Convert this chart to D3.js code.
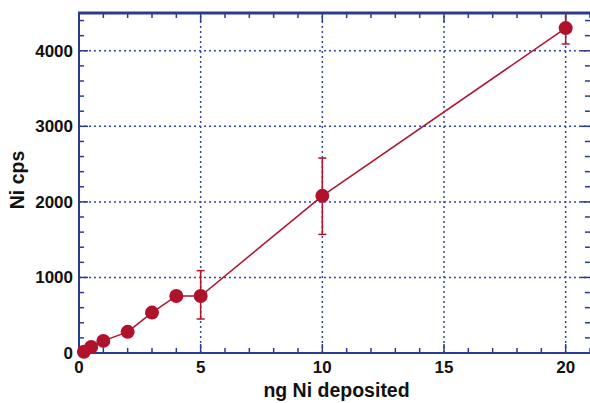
<!DOCTYPE html>
<html>
<head>
<meta charset="utf-8">
<script src="https://cdn.jsdelivr.net/npm/d3@7"></script>
<style>
  body { margin: 0; background: #fff; }
  svg text { font-family: "Liberation Sans", Arial, Helvetica, sans-serif; font-weight: bold; fill: #111; }
</style>
</head>
<body>
<div id="chart"></div>
<script>
// ng Ni deposited vs. measured Ni counts per second
const mass = [0.2, 0.5, 1, 2, 3, 4, 5, 10, 20];
const cps = [15, 80, 160, 280, 535, 755, 755, 2080, 4300];
// error bars (low, high), null where none is drawn
const errLow = [null, null, null, null, null, null, 450, 1570, 4090];
const errHigh = [null, null, null, null, null, null, 1090, 2580, 4510];

const xTicks = [0, 5, 10, 15, 20];
const yTicks = [0, 1000, 2000, 3000, 4000];

const width = 590, height = 403;
const margin = { top: 13, right: 0, bottom: 50, left: 79 };
const axisColor = "#2b3c8e";
const gridColor = "#3545a3";
const red = "#b0122c";

const svg = d3.select("#chart").append("svg")
    .attr("width", width)
    .attr("height", height);

const x = d3.scaleLinear().domain([0, 21]).range([margin.left, width - margin.right]);
const y = d3.scaleLinear().domain([0, 4500]).range([height - margin.bottom, margin.top]);

const x0 = x.range()[0], x1 = x.range()[1];
const y0 = y.range()[0], y1 = y.range()[1];

// grid
svg.append("g").selectAll("line")
    .data(xTicks.filter(d => d > 0))
    .enter().append("line")
    .attr("x1", d => x(d)).attr("x2", d => x(d))
    .attr("y1", y0).attr("y2", y1)
    .attr("stroke", gridColor).attr("stroke-width", 1.5)
    .attr("stroke-dasharray", "2,3");

svg.append("g").selectAll("line")
    .data(yTicks.filter(d => d > 0))
    .enter().append("line")
    .attr("x1", x0).attr("x2", x1)
    .attr("y1", d => y(d)).attr("y2", d => y(d))
    .attr("stroke", gridColor).attr("stroke-width", 1.5)
    .attr("stroke-dasharray", "2,3");

// minor + major ticks on all four sides, pointing inward
const xMinor = d3.range(0, 21.01, 1);
const yMinor = d3.range(0, 4501, 200);
const ticks = svg.append("g").attr("stroke", axisColor).attr("stroke-width", 1.5);

xMinor.forEach(v => {
    const len = v % 5 === 0 ? 9 : 5;
    ticks.append("line").attr("x1", x(v)).attr("x2", x(v)).attr("y1", y0).attr("y2", y0 - len);
    ticks.append("line").attr("x1", x(v)).attr("x2", x(v)).attr("y1", y1).attr("y2", y1 + len);
});
yMinor.forEach(v => {
    const len = v % 1000 === 0 ? 9 : 5;
    ticks.append("line").attr("y1", y(v)).attr("y2", y(v)).attr("x1", x0).attr("x2", x0 + len);
    ticks.append("line").attr("y1", y(v)).attr("y2", y(v)).attr("x1", x1).attr("x2", x1 - len);
});

// frame
svg.append("line").attr("x1", x0).attr("x2", x1).attr("y1", y0).attr("y2", y0)
    .attr("stroke", axisColor).attr("stroke-width", 2);
svg.append("line").attr("x1", x0).attr("x2", x0).attr("y1", y0).attr("y2", y1)
    .attr("stroke", axisColor).attr("stroke-width", 2);
svg.append("line").attr("x1", x0 - 1).attr("x2", x1).attr("y1", y1).attr("y2", y1)
    .attr("stroke", axisColor).attr("stroke-width", 3);

// tick labels
svg.append("g").selectAll("text")
    .data(xTicks)
    .enter().append("text")
    .attr("x", d => x(d)).attr("y", y0 + 20)
    .attr("text-anchor", "middle")
    .attr("font-size", 17)
    .text(d => d);

svg.append("g").selectAll("text")
    .data(yTicks)
    .enter().append("text")
    .attr("x", x0 - 6).attr("y", d => y(d) + 6)
    .attr("text-anchor", "end")
    .attr("font-size", 17)
    .text(d => d);

// axis titles
svg.append("text")
    .attr("x", (x0 + x1) / 2 + 2).attr("y", 397)
    .attr("text-anchor", "middle")
    .attr("font-size", 19.5)
    .text("ng Ni deposited");

svg.append("text")
    .attr("transform", `translate(24, ${(y0 + y1) / 2 - 3}) rotate(-90)`)
    .attr("text-anchor", "middle")
    .attr("font-size", 19.5)
    .text("Ni cps");

// data
const pts = mass.map((m, i) => ({ m, c: cps[i], lo: errLow[i], hi: errHigh[i] }));

const plot = svg.append("g");
plot.append("clipPath").attr("id", "clip")
    .append("rect").attr("x", x0).attr("y", y1).attr("width", x1 - x0).attr("height", y0 - y1);

const errs = plot.append("g").attr("clip-path", "url(#clip)")
    .attr("stroke", red).attr("stroke-width", 1.5);
pts.filter(d => d.lo !== null).forEach(d => {
    errs.append("line").attr("x1", x(d.m)).attr("x2", x(d.m)).attr("y1", y(d.lo)).attr("y2", y(d.hi));
    errs.append("line").attr("x1", x(d.m) - 4).attr("x2", x(d.m) + 4).attr("y1", y(d.lo)).attr("y2", y(d.lo));
    errs.append("line").attr("x1", x(d.m) - 4).attr("x2", x(d.m) + 4).attr("y1", y(d.hi)).attr("y2", y(d.hi));
});

plot.append("path")
    .datum(pts)
    .attr("fill", "none")
    .attr("stroke", red)
    .attr("stroke-width", 1.5)
    .attr("d", d3.line().x(d => x(d.m)).y(d => y(d.c)));

plot.append("g").selectAll("circle")
    .data(pts)
    .enter().append("circle")
    .attr("cx", d => x(d.m))
    .attr("cy", d => y(d.c))
    .attr("r", 7)
    .attr("fill", red);
</script>
</body>
</html>
